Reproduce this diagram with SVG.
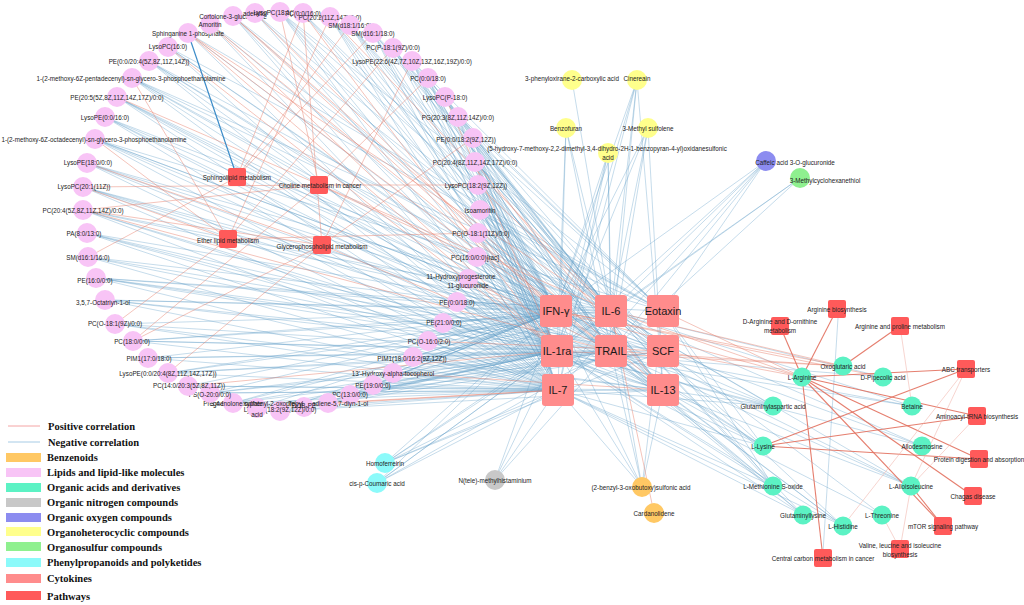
<svg xmlns="http://www.w3.org/2000/svg" width="1024" height="605" viewBox="0 0 1024 605">
<style>
text{font-family:"Liberation Sans",Arial,sans-serif;font-size:6.3px;fill:#222;text-anchor:middle;dominant-baseline:central}
.n path{stroke:#5E9EC8;stroke-opacity:.45;stroke-width:.8;fill:none}
.p path{stroke:#E8826F;stroke-opacity:.6;stroke-width:.8;fill:none}
.pr path{stroke:#E2705E;stroke-opacity:.9;stroke-width:1.1;fill:none}
.pf path{stroke:#F0B4AA;stroke-opacity:.7;stroke-width:.8;fill:none}
.lp{fill:#F8C4F6}.oa{fill:#5CF2C4}.yl{fill:#FFFF8C}.bz{fill:#FFC864}.ng{fill:#C8C8C8}.ox{fill:#8C8CF0}.os{fill:#8FF08F}.ph{fill:#8CFAFA}
.ck rect{fill:#FF8C8C}.ck text{font-size:11px;fill:#1a1a1a}
.pw{fill:#FF5A5A}
.lg{font-family:"Liberation Serif","Times New Roman",serif;font-weight:bold;font-size:10.5px;text-anchor:start;fill:#111}
</style>
<rect width="1024" height="605" fill="#fff"/>
<g id="connectors">
<g class="n">
<path d="M188 33L556 311"/><path d="M188 33L558 390"/><path d="M188 33L663 311"/>
<path d="M210 24L556 311"/><path d="M210 24L558 390"/><path d="M210 24L611 311"/>
<path d="M233 16L557 351"/><path d="M233 16L558 390"/><path d="M233 16L611 351"/><path d="M233 16L663 351"/>
<path d="M255 13L557 351"/><path d="M255 13L611 311"/><path d="M255 13L611 351"/>
<path d="M280 12L556 311"/><path d="M280 12L557 351"/><path d="M280 12L558 390"/><path d="M280 12L611 351"/><path d="M280 12L663 351"/><path d="M280 12L663 311"/>
<path d="M303 13L556 311"/><path d="M303 13L611 311"/><path d="M303 13L663 390"/>
<path d="M330 17L556 311"/><path d="M330 17L557 351"/><path d="M330 17L558 390"/><path d="M330 17L611 351"/>
<path d="M350 25L556 311"/><path d="M350 25L611 311"/><path d="M350 25L557 351"/><path d="M350 25L611 351"/><path d="M350 25L663 390"/>
<path d="M373 33L556 311"/><path d="M373 33L611 311"/><path d="M373 33L557 351"/><path d="M373 33L558 390"/><path d="M373 33L663 311"/><path d="M373 33L663 351"/>
<path d="M393 48L556 311"/><path d="M393 48L611 311"/><path d="M393 48L557 351"/><path d="M393 48L611 351"/><path d="M393 48L663 390"/>
<path d="M412 61L556 311"/><path d="M412 61L557 351"/><path d="M412 61L558 390"/><path d="M412 61L611 351"/><path d="M412 61L663 351"/><path d="M412 61L663 311"/>
<path d="M428 78L556 311"/><path d="M428 78L611 311"/><path d="M428 78L557 351"/><path d="M428 78L558 390"/><path d="M428 78L663 390"/>
<path d="M445 97L556 311"/><path d="M445 97L611 311"/><path d="M445 97L611 351"/><path d="M445 97L663 390"/>
<path d="M458 117L556 311"/><path d="M458 117L557 351"/><path d="M458 117L558 390"/><path d="M458 117L611 311"/><path d="M458 117L663 311"/>
<path d="M473 138L556 311"/><path d="M473 138L611 311"/><path d="M473 138L557 351"/><path d="M473 138L558 390"/><path d="M473 138L611 351"/><path d="M473 138L663 311"/>
<path d="M475 162L556 311"/><path d="M475 162L557 351"/><path d="M475 162L558 390"/><path d="M475 162L611 351"/><path d="M475 162L611 311"/><path d="M475 162L663 351"/>
<path d="M478 185L556 311"/><path d="M478 185L557 351"/><path d="M478 185L558 390"/>
<path d="M480 210L556 311"/><path d="M480 210L557 351"/><path d="M480 210L611 311"/><path d="M480 210L611 351"/><path d="M480 210L663 390"/><path d="M480 210L663 311"/>
<path d="M478 233L556 311"/><path d="M478 233L557 351"/><path d="M478 233L558 390"/><path d="M478 233L611 351"/><path d="M478 233L663 351"/>
<path d="M477 257L556 311"/><path d="M477 257L557 351"/><path d="M477 257L558 390"/><path d="M477 257L611 311"/><path d="M477 257L663 351"/><path d="M477 257L663 390"/>
<path d="M468 279L556 311"/><path d="M468 279L557 351"/><path d="M468 279L558 390"/>
<path d="M457 302L556 311"/><path d="M457 302L557 351"/><path d="M457 302L558 390"/><path d="M457 302L663 390"/><path d="M457 302L663 311"/>
<path d="M443 323L556 311"/><path d="M443 323L557 351"/><path d="M443 323L558 390"/><path d="M443 323L611 351"/><path d="M443 323L611 311"/>
<path d="M428 341L556 311"/><path d="M428 341L557 351"/><path d="M428 341L558 390"/>
<path d="M413 357L556 311"/><path d="M413 357L557 351"/><path d="M413 357L558 390"/><path d="M413 357L611 351"/><path d="M413 357L663 390"/>
<path d="M393 373L556 311"/><path d="M393 373L557 351"/><path d="M393 373L558 390"/>
<path d="M373 385L556 311"/><path d="M373 385L557 351"/><path d="M373 385L558 390"/><path d="M373 385L611 351"/><path d="M373 385L611 311"/>
<path d="M350 395L556 311"/><path d="M350 395L557 351"/><path d="M350 395L558 390"/><path d="M350 395L663 351"/>
<path d="M328 403L556 311"/><path d="M328 403L557 351"/><path d="M328 403L611 351"/>
<path d="M304 407L556 311"/><path d="M304 407L557 351"/><path d="M304 407L558 390"/>
<path d="M280 411L556 311"/><path d="M280 411L557 351"/><path d="M280 411L558 390"/><path d="M280 411L663 390"/><path d="M280 411L663 351"/>
<path d="M257 408L556 311"/><path d="M257 408L557 351"/><path d="M257 408L611 351"/>
<path d="M233 403L556 311"/><path d="M233 403L557 351"/><path d="M233 403L558 390"/><path d="M233 403L663 351"/><path d="M233 403L611 311"/>
<path d="M210 393L556 311"/><path d="M210 393L557 351"/><path d="M210 393L558 390"/><path d="M210 393L611 351"/><path d="M210 393L663 390"/>
<path d="M188 386L556 311"/><path d="M188 386L558 390"/><path d="M188 386L663 390"/>
<path d="M168 373L556 311"/><path d="M168 373L557 351"/><path d="M168 373L558 390"/><path d="M168 373L611 351"/><path d="M168 373L611 311"/>
<path d="M148 358L556 311"/><path d="M148 358L557 351"/><path d="M148 358L558 390"/><path d="M148 358L663 351"/>
<path d="M133 341L556 311"/><path d="M133 341L557 351"/><path d="M133 341L558 390"/><path d="M133 341L611 351"/><path d="M133 341L611 311"/>
<path d="M115 324L556 311"/><path d="M115 324L557 351"/><path d="M115 324L558 390"/><path d="M115 324L663 390"/>
<path d="M105 300L556 311"/><path d="M105 300L557 351"/><path d="M105 300L558 390"/><path d="M105 300L611 351"/><path d="M105 300L611 311"/>
<path d="M96 278L556 311"/><path d="M96 278L557 351"/><path d="M96 278L558 390"/><path d="M96 278L611 311"/><path d="M96 278L611 351"/><path d="M96 278L663 351"/>
<path d="M88 257L556 311"/><path d="M88 257L557 351"/><path d="M88 257L558 390"/><path d="M88 257L663 351"/>
<path d="M87 233L556 311"/><path d="M87 233L557 351"/><path d="M87 233L558 390"/><path d="M87 233L611 351"/><path d="M87 233L663 390"/>
<path d="M83 210L556 311"/><path d="M83 210L557 351"/><path d="M83 210L558 390"/><path d="M83 210L611 311"/><path d="M83 210L663 390"/>
<path d="M83 187L556 311"/><path d="M83 187L557 351"/><path d="M83 187L558 390"/><path d="M83 187L611 351"/><path d="M83 187L663 351"/>
<path d="M87 163L556 311"/><path d="M87 163L557 351"/><path d="M87 163L558 390"/><path d="M87 163L611 311"/><path d="M87 163L611 351"/>
<path d="M95 139L556 311"/><path d="M95 139L557 351"/><path d="M95 139L558 390"/><path d="M95 139L663 351"/><path d="M95 139L611 351"/><path d="M95 139L663 311"/>
<path d="M105 117L556 311"/><path d="M105 117L557 351"/><path d="M105 117L558 390"/><path d="M105 117L611 311"/><path d="M105 117L663 390"/>
<path d="M117 97L556 311"/><path d="M117 97L557 351"/><path d="M117 97L558 390"/><path d="M117 97L611 351"/><path d="M117 97L663 390"/>
<path d="M132 78L556 311"/><path d="M132 78L557 351"/><path d="M132 78L558 390"/><path d="M132 78L611 311"/><path d="M132 78L611 351"/><path d="M132 78L663 311"/>
<path d="M149 61L556 311"/><path d="M149 61L557 351"/><path d="M149 61L558 390"/><path d="M149 61L611 351"/><path d="M149 61L611 311"/>
<path d="M168 47L556 311"/><path d="M168 47L558 390"/><path d="M168 47L611 351"/><path d="M168 47L663 311"/>
<path d="M572 80L611 311"/>
<path d="M637 80L556 311"/><path d="M637 80L557 351"/><path d="M637 80L558 390"/><path d="M637 80L611 311"/><path d="M637 80L611 351"/><path d="M637 80L663 390"/>
<path d="M566 128L611 311"/><path d="M566 128L611 351"/><path d="M566 128L558 390"/><path d="M566 128L557 351"/>
<path d="M648 128L556 311"/><path d="M648 128L611 311"/><path d="M648 128L557 351"/><path d="M648 128L611 351"/><path d="M648 128L663 390"/>
<path d="M608 153L556 311"/><path d="M608 153L557 351"/><path d="M608 153L558 390"/><path d="M608 153L611 351"/><path d="M608 153L611 311"/>
<path d="M766 161L556 311"/><path d="M766 161L611 311"/><path d="M766 161L557 351"/><path d="M766 161L611 351"/><path d="M766 161L558 390"/><path d="M766 161L663 311"/>
<path d="M800 178L611 311"/><path d="M800 178L611 351"/><path d="M800 178L557 351"/>
<path d="M385 463L556 311"/><path d="M385 463L611 311"/><path d="M385 463L557 351"/><path d="M385 463L611 351"/><path d="M385 463L558 390"/><path d="M385 463L663 351"/>
<path d="M377 483L556 311"/><path d="M377 483L557 351"/><path d="M377 483L558 390"/><path d="M377 483L611 351"/><path d="M377 483L611 311"/>
<path d="M495 480L556 311"/><path d="M495 480L557 351"/><path d="M495 480L611 311"/><path d="M495 480L611 351"/>
<path d="M642 487L556 311"/><path d="M642 487L557 351"/><path d="M642 487L611 311"/><path d="M642 487L611 351"/><path d="M642 487L558 390"/><path d="M642 487L663 311"/><path d="M642 487L663 390"/>
<path d="M773 406L556 311"/><path d="M773 406L557 351"/><path d="M773 406L558 390"/><path d="M773 406L611 351"/><path d="M773 406L611 311"/><path d="M773 406L663 390"/>
<path d="M912 406L611 311"/><path d="M912 406L557 351"/><path d="M912 406L611 351"/>
<path d="M763 446L556 311"/><path d="M763 446L557 351"/><path d="M763 446L558 390"/><path d="M763 446L611 311"/><path d="M763 446L611 351"/><path d="M763 446L663 390"/><path d="M763 446L663 311"/>
<path d="M922 446L611 311"/><path d="M922 446L557 351"/><path d="M922 446L556 311"/>
<path d="M773 486L556 311"/><path d="M773 486L557 351"/><path d="M773 486L558 390"/><path d="M773 486L611 351"/><path d="M773 486L611 311"/><path d="M773 486L663 351"/><path d="M773 486L663 311"/>
<path d="M911 486L557 351"/><path d="M911 486L556 311"/><path d="M911 486L611 311"/><path d="M911 486L611 351"/>
<path d="M803 515L556 311"/><path d="M803 515L557 351"/><path d="M803 515L558 390"/><path d="M803 515L611 351"/><path d="M803 515L611 311"/>
<path d="M882 515L557 351"/><path d="M882 515L611 311"/>
<path d="M843 526L556 311"/><path d="M843 526L557 351"/><path d="M843 526L558 390"/><path d="M843 526L611 351"/><path d="M843 526L611 311"/>
<path d="M883 377L557 351"/><path d="M883 377L611 311"/>
<path d="M838 318L823 552"/>
</g>
<g class="p">
<path d="M188 33L557 351"/><path d="M188 33L611 351"/><path d="M188 33L611 311"/>
<path d="M210 24L557 351"/><path d="M210 24L611 351"/>
<path d="M233 16L556 311"/><path d="M233 16L663 390"/>
<path d="M255 13L556 311"/><path d="M303 13L557 351"/><path d="M330 17L611 311"/><path d="M445 97L557 351"/><path d="M475 162L663 390"/><path d="M83 210L611 351"/><path d="M117 97L611 311"/><path d="M168 47L557 351"/>
<path d="M478 185L611 311"/><path d="M468 279L611 351"/><path d="M428 341L663 351"/><path d="M393 373L663 390"/>
<path d="M328 403L558 390"/><path d="M257 408L558 390"/><path d="M188 386L557 351"/>
<path d="M237 177L350 25"/><path d="M237 177L373 33"/><path d="M237 177L88 257"/><path d="M237 177L303 13"/>
<path d="M319 185L83 187"/><path d="M319 185L83 210"/><path d="M319 185L133 341"/><path d="M319 185L280 12"/><path d="M319 185L428 78"/><path d="M319 185L478 185"/><path d="M319 185L477 257"/>
<path d="M322 245L83 210"/><path d="M322 245L133 341"/><path d="M322 245L457 302"/><path d="M322 245L473 138"/><path d="M322 245L412 61"/><path d="M322 245L303 13"/><path d="M322 245L168 373"/><path d="M322 245L87 163"/>
<path d="M228 239L95 139"/><path d="M228 239L132 78"/><path d="M228 239L115 324"/><path d="M228 239L478 233"/><path d="M228 239L83 187"/><path d="M228 239L393 48"/><path d="M228 239L330 17"/>
<path d="M802 377L611 311"/><path d="M802 377L663 311"/><path d="M802 377L556 311"/><path d="M802 377L663 351"/>
<path d="M843 366L556 311"/><path d="M843 366L557 351"/><path d="M843 366L611 311"/><path d="M843 366L611 351"/>
<path d="M883 377L556 311"/><path d="M654 513L611 311"/>
</g>
<path d="M188 33L237 177" stroke="#3C8CC8" stroke-width="1.2" fill="none"/>
<g class="pr">
<path d="M802 377L837 309"/><path d="M802 377L780 326"/><path d="M802 377L966 369"/><path d="M802 377L977 416"/><path d="M802 377L823 558"/><path d="M802 377L943 526"/><path d="M802 377L973 496"/><path d="M802 377L979 459"/>
<path d="M843 366L900 326"/>
<path d="M763 446L966 369"/><path d="M763 446L977 416"/><path d="M763 446L979 459"/>
<path d="M911 486L943 526"/>
</g>
<g class="pf">
<path d="M911 486L900 549"/><path d="M911 486L977 416"/><path d="M882 515L900 549"/><path d="M843 526L966 369"/><path d="M912 406L900 326"/><path d="M966 369L911 486"/>
</g>
</g>
<g id="lipid-nodes">
<g id="n-sphinganine-1p"><circle class="lp" cx="188" cy="33" r="10"/><text x="188" y="33">Sphinganine 1-phosphate</text></g>
<g id="n-amoritin"><circle class="lp" cx="210" cy="24" r="10"/><text x="210" y="24">Amoritin</text></g>
<g id="n-cortolone"><circle class="lp" cx="233" cy="16" r="10"/><text x="233" y="16">Cortolone-3-glucuronide</text></g>
<g id="n-aderkit"><circle class="lp" cx="255" cy="13" r="10"/><text x="255" y="13">aderkitol</text></g>
<g id="n-lysopc-18-1"><circle class="lp" cx="280" cy="12" r="10"/><text x="280" y="12">LysoPC(18:1(11Z))</text></g>
<g id="n-pc-0-0"><circle class="lp" cx="303" cy="13" r="10"/><text x="303" y="13">PC(0:0/16:0)</text></g>
<g id="n-pc-20-2"><circle class="lp" cx="330" cy="17" r="10"/><text x="330" y="17">PC(20:2(11Z,14Z)/0:0)</text></g>
<g id="n-sm-d18"><circle class="lp" cx="350" cy="25" r="10"/><text x="350" y="25">SM(d18:1/16:0)</text></g>
<g id="n-sm-d16-18"><circle class="lp" cx="373" cy="33" r="10"/><text x="373" y="33">SM(d16:1/18:0)</text></g>
<g id="n-pc-p18-1"><circle class="lp" cx="393" cy="48" r="10"/><text x="393" y="47">PC(P-18:1(9Z)/0:0)</text></g>
<g id="n-lysope-22-6"><circle class="lp" cx="412" cy="61" r="10"/><text x="412" y="61">LysoPE(22:6(4Z,7Z,10Z,13Z,16Z,19Z)/0:0)</text></g>
<g id="n-pc-0-18"><circle class="lp" cx="428" cy="78" r="10"/><text x="428" y="78">PC(0:0/18:0)</text></g>
<g id="n-lysopc-p18"><circle class="lp" cx="445" cy="97" r="10"/><text x="445" y="97">LysoPC(P-18:0)</text></g>
<g id="n-pg-20-3"><circle class="lp" cx="458" cy="117" r="10"/><text x="458" y="117">PG(20:3(8Z,11Z,14Z)/0:0)</text></g>
<g id="n-pe-0-18-2"><circle class="lp" cx="473" cy="138" r="10"/><text x="466" y="139">PE(0:0/18:2(9Z,12Z))</text></g>
<g id="n-pc-20-4-8z"><circle class="lp" cx="475" cy="162" r="10"/><text x="475" y="162">PC(20:4(8Z,11Z,14Z,17Z)/0:0)</text></g>
<g id="n-lysopc-18-2"><circle class="lp" cx="478" cy="185" r="10"/><text x="476" y="185">LysoPC(18:2(9Z,12Z))</text></g>
<g id="n-isoamoritin"><circle class="lp" cx="480" cy="210" r="10"/><text x="480" y="210">Isoamoritin</text></g>
<g id="n-pc-o18-1-11z"><circle class="lp" cx="478" cy="233" r="10"/><text x="481" y="233">PC(O-18:1(11Z)/0:0)</text></g>
<g id="n-pc-16-rac"><circle class="lp" cx="477" cy="257" r="10"/><text x="475" y="257">PC(16:0/0:0)[rac]</text></g>
<g id="n-11-hydroxyprog"><circle class="lp" cx="468" cy="279" r="10"/><text x="461" y="276">11-Hydroxyprogesterone</text><text x="468" y="285">11-glucuronide</text></g>
<g id="n-pe-0-18"><circle class="lp" cx="457" cy="302" r="10"/><text x="457" y="302">PE(0:0/18:0)</text></g>
<g id="n-pe-21"><circle class="lp" cx="443" cy="323" r="10"/><text x="444" y="322">PE(21:0/0:0)</text></g>
<g id="n-pc-o16"><circle class="lp" cx="428" cy="341" r="10"/><text x="429" y="341">PC(O-16:0/2:0)</text></g>
<g id="n-pim1-18"><circle class="lp" cx="413" cy="357" r="10"/><text x="412" y="358">PIM1(18:0/16:2(9Z,12Z))</text></g>
<g id="n-tocopherol"><circle class="lp" cx="393" cy="373" r="10"/><text x="393" y="373">13'-Hydroxy-alpha-tocopherol</text></g>
<g id="n-pe-19"><circle class="lp" cx="373" cy="385" r="10"/><text x="373" y="385">PE(19:0/0:0)</text></g>
<g id="n-pc-13"><circle class="lp" cx="350" cy="395" r="10"/><text x="350" y="394">PC(13:0/0:0)</text></g>
<g id="n-diene-ol"><circle class="lp" cx="328" cy="403" r="10"/><text x="328" y="403">Tetradecadiene-5,7-diyn-1-ol</text></g>
<g id="n-dob-pe"><circle class="lp" cx="304" cy="407" r="10"/><text x="304" y="405">DOB-PE</text></g>
<g id="n-lysope-18-2"><circle class="lp" cx="280" cy="411" r="10"/><text x="280" y="409">LysoPE(18:2(9Z,12Z)/0:0)</text></g>
<g id="n-acid"><circle class="lp" cx="257" cy="408" r="10"/><text x="257" y="403">3,4-Dihydroxyphenyl-2-oxopropyl</text><text x="257" y="414">acid</text></g>
<g id="n-pregnenolone"><circle class="lp" cx="233" cy="403" r="10"/><text x="233" y="403">Pregnenolone sulfate</text></g>
<g id="n-ps-o20"><circle class="lp" cx="210" cy="393" r="10"/><text x="210" y="394">PS(O-20:0/0:0)</text></g>
<g id="n-pc-14"><circle class="lp" cx="188" cy="386" r="10"/><text x="189" y="385">PC(14:0/20:3(5Z,8Z,11Z))</text></g>
<g id="n-lysope-0-20-4"><circle class="lp" cx="168" cy="373" r="10"/><text x="168" y="373">LysoPE(0:0/20:4(8Z,11Z,14Z,17Z))</text></g>
<g id="n-pim1-17"><circle class="lp" cx="148" cy="358" r="10"/><text x="149" y="358">PIM1(17:0/18:0)</text></g>
<g id="n-pc-18"><circle class="lp" cx="133" cy="341" r="10"/><text x="132" y="341">PC(18:0/0:0)</text></g>
<g id="n-pc-o18-9z"><circle class="lp" cx="115" cy="324" r="10"/><text x="115" y="323">PC(O-18:1(9Z)/0:0)</text></g>
<g id="n-octatriyn"><circle class="lp" cx="105" cy="300" r="10"/><text x="103" y="302">3,5,7-Octatriyn-1-ol</text></g>
<g id="n-pe-16"><circle class="lp" cx="96" cy="278" r="10"/><text x="95" y="280">PE(16:0/0:0)</text></g>
<g id="n-sm-d16-16"><circle class="lp" cx="88" cy="257" r="10"/><text x="88" y="257">SM(d16:1/16:0)</text></g>
<g id="n-pa"><circle class="lp" cx="87" cy="233" r="10"/><text x="84" y="233">PA(8:0/13:0)</text></g>
<g id="n-pc-20-4-5z"><circle class="lp" cx="83" cy="210" r="10"/><text x="83" y="210">PC(20:4(5Z,8Z,11Z,14Z)/0:0)</text></g>
<g id="n-lysopc-20-1"><circle class="lp" cx="83" cy="187" r="10"/><text x="84" y="186">LysoPC(20:1(11Z))</text></g>
<g id="n-lysope-18"><circle class="lp" cx="87" cy="163" r="10"/><text x="88" y="162">LysoPE(18:0/0:0)</text></g>
<g id="n-methoxy-octadecenyl"><circle class="lp" cx="95" cy="139" r="10"/><text x="94" y="139">1-(2-methoxy-6Z-octadecenyl)-sn-glycero-3-phosphoethanolamine</text></g>
<g id="n-lysope-0-16"><circle class="lp" cx="105" cy="117" r="10"/><text x="105" y="117">LysoPE(0:0/16:0)</text></g>
<g id="n-pe-20-5"><circle class="lp" cx="117" cy="97" r="10"/><text x="117" y="97">PE(20:5(5Z,8Z,11Z,14Z,17Z)/0:0)</text></g>
<g id="n-methoxy-pentadecenyl"><circle class="lp" cx="132" cy="78" r="10"/><text x="131" y="78">1-(2-methoxy-6Z-pentadecenyl)-sn-glycero-3-phosphoethanolamine</text></g>
<g id="n-pe-0-20-4"><circle class="lp" cx="149" cy="61" r="10"/><text x="149" y="61">PE(0:0/20:4(5Z,8Z,11Z,14Z))</text></g>
<g id="n-lysopc-16"><circle class="lp" cx="168" cy="47" r="10"/><text x="168" y="46">LysoPC(16:0)</text></g>
</g>
<g id="pathway-nodes">
<g id="p-sphingolipid"><rect class="pw" x="228" y="168" width="18" height="18" rx="2"/><text x="237" y="177">Sphingolipid metabolism</text></g>
<g id="p-choline"><rect class="pw" x="310" y="176" width="18" height="18" rx="2"/><text x="320" y="185">Choline metabolism in cancer</text></g>
<g id="p-ether"><rect class="pw" x="219" y="230" width="18" height="18" rx="2"/><text x="228" y="240">Ether lipid metabolism</text></g>
<g id="p-glycerophospholipid"><rect class="pw" x="313" y="236" width="18" height="18" rx="2"/><text x="322" y="246">Glycerophospholipid metabolism</text></g>
<g id="p-arg-bio"><rect class="pw" x="828" y="300" width="18" height="18" rx="2"/><text x="837" y="309">Arginine biosynthesis</text></g>
<g id="p-d-arg"><rect class="pw" x="771" y="317" width="18" height="18" rx="2"/><text x="780" y="321">D-Arginine and D-ornithine</text><text x="780" y="330">metabolism</text></g>
<g id="p-arg-pro"><rect class="pw" x="891" y="317" width="18" height="18" rx="2"/><text x="900" y="326">Arginine and proline metabolism</text></g>
<g id="p-abc"><rect class="pw" x="957" y="360" width="18" height="18" rx="2"/><text x="966" y="369">ABC transporters</text></g>
<g id="p-aminoacyl"><rect class="pw" x="968" y="407" width="18" height="18" rx="2"/><text x="977" y="416">Aminoacyl-tRNA biosynthesis</text></g>
<g id="p-protein"><rect class="pw" x="970" y="450" width="18" height="18" rx="2"/><text x="979" y="459">Protein digestion and absorption</text></g>
<g id="p-chagas"><rect class="pw" x="964" y="487" width="18" height="18" rx="2"/><text x="973" y="496">Chagas disease</text></g>
<g id="p-mtor"><rect class="pw" x="934" y="517" width="18" height="18" rx="2"/><text x="943" y="526">mTOR signaling pathway</text></g>
<g id="p-valine"><rect class="pw" x="891" y="540" width="18" height="18" rx="2"/><text x="900" y="545">Valine, leucine and isoleucine</text><text x="900" y="554">biosynthesis</text></g>
<g id="p-central"><rect class="pw" x="814" y="549" width="18" height="18" rx="2"/><text x="823" y="558">Central carbon metabolism in cancer</text></g>
</g>
<g id="other-metabolites">
<g id="n-phenyloxirane"><circle class="yl" cx="572" cy="80" r="10"/><text x="572" y="78">3-phenyloxirane-2-carboxylic acid</text></g>
<g id="n-cinereain"><circle class="yl" cx="637" cy="80" r="10"/><text x="637" y="78">Cinereain</text></g>
<g id="n-benzofuran"><circle class="yl" cx="566" cy="128" r="10"/><text x="566" y="128">Benzofuran</text></g>
<g id="n-methyl-sulfolene"><circle class="yl" cx="648" cy="128" r="10"/><text x="648" y="128">3-Methyl sulfolene</text></g>
<g id="n-benzopyran"><circle class="yl" cx="608" cy="153" r="10"/><text x="607" y="148">(5-hydroxy-7-methoxy-2,2-dimethyl-3,4-dihydro-2H-1-benzopyran-4-yl)oxidanesulfonic</text><text x="608" y="157">acid</text></g>
<g id="n-caffeic"><circle class="ox" cx="766" cy="161" r="10"/><text x="795" y="162">Caffeic acid 3-O-glucuronide</text></g>
<g id="n-methylcyclohexanethiol"><circle class="os" cx="800" cy="178" r="10"/><text x="825" y="180">3-Methylcyclohexanethiol</text></g>
<g id="n-homoferreirin"><circle class="ph" cx="385" cy="463" r="10"/><text x="385" y="463">Homoferreirin</text></g>
<g id="n-coumaric"><circle class="ph" cx="377" cy="483" r="10"/><text x="377" y="483">cis-p-Coumaric acid</text></g>
<g id="n-methylhistaminium"><circle class="ng" cx="495" cy="480" r="10"/><text x="495" y="480">N(tele)-methylhistaminium</text></g>
<g id="n-benzyl-oxobutoxy"><circle class="bz" cx="642" cy="487" r="10"/><text x="641" y="487">(2-benzyl-3-oxobutoxy)sulfonic acid</text></g>
<g id="n-cardanolidene"><circle class="bz" cx="654" cy="513" r="10"/><text x="654" y="513">Cardanolidene</text></g>
<g id="n-l-arginine"><circle class="oa" cx="802" cy="377" r="9.5"/><text x="802" y="377">L-Arginine</text></g>
<g id="n-oxoglutaric"><circle class="oa" cx="843" cy="366" r="9.5"/><text x="843" y="366">Oxoglutaric acid</text></g>
<g id="n-pipecolic"><circle class="oa" cx="883" cy="377" r="9.5"/><text x="883" y="377">D-Pipecolic acid</text></g>
<g id="n-glutaminylaspartic"><circle class="oa" cx="773" cy="406" r="9.5"/><text x="773" y="406">Glutaminylaspartic acid</text></g>
<g id="n-betaine"><circle class="oa" cx="912" cy="406" r="9.5"/><text x="912" y="406">Betaine</text></g>
<g id="n-l-lysine"><circle class="oa" cx="763" cy="446" r="9.5"/><text x="763" y="446">L-Lysine</text></g>
<g id="n-allodesmosine"><circle class="oa" cx="922" cy="446" r="9.5"/><text x="922" y="446">Allodesmosine</text></g>
<g id="n-methionine"><circle class="oa" cx="773" cy="486" r="9.5"/><text x="773" y="486">L-Methionine S-oxide</text></g>
<g id="n-alloisoleucine"><circle class="oa" cx="911" cy="486" r="9.5"/><text x="911" y="486">L-Alloisoleucine</text></g>
<g id="n-glutaminyllysine"><circle class="oa" cx="803" cy="515" r="9.5"/><text x="803" y="515">Glutaminyllysine</text></g>
<g id="n-threonine"><circle class="oa" cx="882" cy="515" r="9.5"/><text x="882" y="515">L-Threonine</text></g>
<g id="n-histidine"><circle class="oa" cx="843" cy="526" r="9.5"/><text x="843" y="526">L-Histidine</text></g>
</g>
<g id="cytokines" class="ck">
<g id="c-ifn"><rect x="540" y="295" width="32" height="32" rx="3"/><text x="556" y="311">IFN-γ</text></g>
<g id="c-il6"><rect x="595" y="295" width="32" height="32" rx="3"/><text x="611" y="311">IL-6</text></g>
<g id="c-eotaxin"><rect x="647" y="295" width="32" height="32" rx="3"/><text x="663" y="311">Eotaxin</text></g>
<g id="c-il1ra"><rect x="541" y="335" width="32" height="32" rx="3"/><text x="557" y="351">IL-1ra</text></g>
<g id="c-trail"><rect x="595" y="335" width="32" height="32" rx="3"/><text x="611" y="351">TRAIL</text></g>
<g id="c-scf"><rect x="647" y="335" width="32" height="32" rx="3"/><text x="663" y="351">SCF</text></g>
<g id="c-il7"><rect x="542" y="374" width="32" height="32" rx="3"/><text x="558" y="390">IL-7</text></g>
<g id="c-il13"><rect x="647" y="374" width="32" height="32" rx="3"/><text x="663" y="390">IL-13</text></g>
</g>
<g id="legend">
<path d="M8 426H40" stroke="#F4A4A4" stroke-width="1"/><text class="lg" x="48" y="426">Positive correlation</text>
<path d="M8 442H40" stroke="#A6CBE5" stroke-width="1"/><text class="lg" x="48" y="442">Negative correlation</text>
<rect x="6" y="453" width="35" height="9" fill="#FFC864"/><text class="lg" x="47" y="457.5">Benzenoids</text>
<rect x="6" y="468" width="35" height="9" fill="#F8C4F6"/><text class="lg" x="47" y="472.5">Lipids and lipid-like molecules</text>
<rect x="6" y="483" width="35" height="9" fill="#5CF2C4"/><text class="lg" x="47" y="487.5">Organic acids and derivatives</text>
<rect x="6" y="498" width="35" height="9" fill="#C8C8C8"/><text class="lg" x="47" y="502.5">Organic nitrogen compounds</text>
<rect x="6" y="513" width="35" height="9" fill="#8C8CF0"/><text class="lg" x="47" y="517.5">Organic oxygen compounds</text>
<rect x="6" y="527" width="35" height="9" fill="#FFFF8C"/><text class="lg" x="47" y="532">Organoheterocyclic compounds</text>
<rect x="6" y="542" width="35" height="9" fill="#8FF08F"/><text class="lg" x="47" y="547">Organosulfur compounds</text>
<rect x="6" y="558" width="35" height="9" fill="#8CFAFA"/><text class="lg" x="47" y="562.5">Phenylpropanoids and polyketides</text>
<rect x="6" y="574" width="35" height="9" fill="#FF8C8C"/><text class="lg" x="47" y="578.5">Cytokines</text>
<rect x="6" y="591" width="35" height="9" fill="#FF5A5A"/><text class="lg" x="47" y="596">Pathways</text>
</g>
</svg>
